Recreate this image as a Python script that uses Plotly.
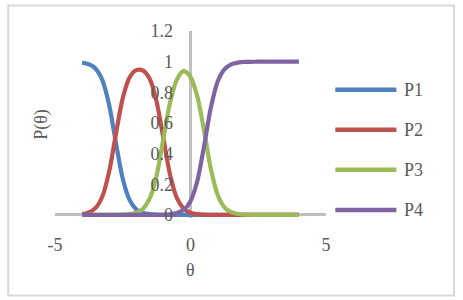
import plotly.graph_objects as go

# ---- data ----
theta = [-4.0, -3.75, -3.5, -3.25, -3.0, -2.75, -2.5, -2.25, -2.0, -1.75, -1.5, -1.25,
         -1.0, -0.75, -0.5, -0.25, 0.0, 0.25, 0.5, 0.75, 1.0, 1.25, 1.5, 1.75,
         2.0, 2.25, 2.5, 2.75, 3.0, 3.25, 3.5, 3.75, 4.0]
P1 = [0.994, 0.983, 0.954, 0.878, 0.716, 0.469, 0.236, 0.098, 0.036, 0.013, 0.005, 0.002,
      0.001, 0, 0, 0, 0, 0, 0, 0, 0, 0, 0, 0,
      0, 0, 0, 0, 0, 0, 0, 0, 0]
P2 = [0.006, 0.017, 0.046, 0.122, 0.284, 0.531, 0.762, 0.897, 0.945, 0.942, 0.886, 0.739,
      0.499, 0.259, 0.109, 0.041, 0.015, 0.005, 0.002, 0.001, 0, 0, 0, 0,
      0, 0, 0, 0, 0, 0, 0, 0, 0]
P3 = [0, 0, 0, 0, 0, 0.001, 0.002, 0.005, 0.015, 0.041, 0.109, 0.258,
      0.499, 0.737, 0.885, 0.94, 0.90, 0.774, 0.551, 0.301, 0.131, 0.050, 0.018, 0.006,
      0.002, 0.001, 0, 0, 0, 0, 0, 0, 0]
P4 = [0, 0, 0, 0, 0, 0, 0, 0, 0, 0, 0, 0.001,
      0.001, 0.004, 0.012, 0.034, 0.090, 0.221, 0.448, 0.699, 0.869, 0.950, 0.982, 0.994,
      0.998, 0.999, 1.0, 1.0, 1.0, 1.0, 1.0, 1.0, 1.0]
series_names = ["P1", "P2", "P3", "P4"]
series_values = [P1, P2, P3, P4]
series_colors = ["#4F81BD", "#C0504D", "#9BBB59", "#8064A2"]
x_tickvals = [-5, 0, 5]
x_ticktext = ["-5", "0", "5"]
y_tickvals = [0, 0.2, 0.4, 0.6, 0.8, 1.0, 1.2]
y_ticktext = ["0", "0.2", "0.4", "0.6", "0.8", "1", "1.2"]
x_title = "θ"
y_title = "P(θ)"

# ---- layout geometry (pixels) ----
W, H = 463, 300
L = 55.0
R = 463 - 325.7
T = 31.4
PW = W - L - R
YMIN, YMAX = -0.02, 1.2
PPU = (215 - 31.4) / 1.2
PH = (YMAX - YMIN) * PPU
B = H - T - PH
BOTTOM = T + PH

def xp(px):
    return (px - L) / PW

def yp(py):
    return (BOTTOM - py) / PH

FONT = "Liberation Serif"
TXT = "#595959"
GRAY = "#BFBFBF"

fig = go.Figure()
for name, vals, col in zip(series_names, series_values, series_colors):
    fig.add_trace(go.Scatter(x=theta, y=vals, name=name, mode="lines",
                             line=dict(color=col, width=4.2, shape="spline", smoothing=0.8),
                             showlegend=False))

shapes = [dict(type="rect", xref="paper", yref="paper",
               x0=xp(8.3), x1=xp(453.5), y0=yp(295.3), y1=yp(6),
               line=dict(color="#D9D9D9", width=2), fillcolor="rgba(0,0,0,0)", layer="below")]
annotations = []
leg_y = [90, 130, 170, 210]
for name, col, py in zip(series_names, series_colors, leg_y):
    shapes.append(dict(type="line", xref="paper", yref="paper",
                       x0=xp(335), x1=xp(396), y0=yp(py), y1=yp(py),
                       line=dict(color=col, width=4.5)))
    annotations.append(dict(text=name, xref="paper", yref="paper", x=xp(402), y=yp(py),
                            xanchor="left", yanchor="middle", showarrow=False,
                            font=dict(family=FONT, size=18, color=TXT)))
annotations.append(dict(text=y_title, xref="paper", yref="paper", x=xp(42), y=yp(124),
                        xanchor="center", yanchor="middle", textangle=-90, showarrow=False,
                        font=dict(family=FONT, size=18, color=TXT)))
annotations.append(dict(text=x_title, xref="paper", yref="paper", x=xp(190.3), y=yp(270),
                        xanchor="center", yanchor="middle", showarrow=False,
                        font=dict(family=FONT, size=18, color=TXT)))

fig.update_layout(
    width=W, height=H,
    margin=dict(l=L, r=R, t=T, b=B, pad=0),
    paper_bgcolor="white", plot_bgcolor="white",
    shapes=shapes, annotations=annotations,
    xaxis=dict(range=[-5, 5], tickvals=x_tickvals, ticktext=x_ticktext,
               showgrid=False, zeroline=True, zerolinecolor=GRAY, zerolinewidth=2.5,
               showline=False, ticks="outside", ticklen=10, tickcolor="rgba(0,0,0,0)",
               tickfont=dict(family=FONT, size=18, color=TXT), fixedrange=True),
    yaxis=dict(range=[YMIN, YMAX], tickvals=y_tickvals, ticktext=y_ticktext,
               anchor="free", position=0.5,
               showgrid=False, zeroline=True, zerolinecolor=GRAY, zerolinewidth=2.5,
               showline=False, ticks="outside", ticklen=14, tickcolor="rgba(0,0,0,0)",
               tickfont=dict(family=FONT, size=18, color=TXT), fixedrange=True),
)

fig.write_html("out.html")
